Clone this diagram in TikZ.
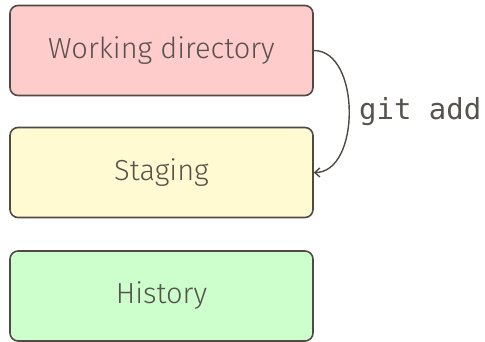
\documentclass[tikz,border=0pt]{standalone}
\usepackage{fontspec}
\setmainfont{Fira Sans}[UprightFont=* Light]
\setmonofont{DejaVu Sans Mono}
\usetikzlibrary{arrows.meta}
\definecolor{edge}{HTML}{504A45}
\definecolor{txt}{HTML}{57524D}
\definecolor{pinkfill}{HTML}{FFCCCC}
\definecolor{yellowfill}{HTML}{FFFAD2}
\definecolor{greenfill}{HTML}{CCFFCC}
\tikzset{
  stage/.style={draw=edge, line width=1.6pt, rounded corners=8pt, minimum width=303pt, minimum height=90pt, text=txt, font=\fontsize{29}{34}\selectfont, inner sep=0pt}
}
\begin{document}
\begin{tikzpicture}[x=1pt,y=-1pt]
\useasboundingbox (0,0) rectangle (485,342);
\node[stage, fill=pinkfill] (wd) at (161.5,50.5) {Working directory};
\node[stage, fill=yellowfill] (st) at (161.5,172.5) {Staging};
\node[stage, fill=greenfill] (hi) at (161.5,296) {History};
\draw[edge, line width=1.4pt, -{Straight Barb[length=5pt,width=9pt]}] (wd.east) .. controls +(47,0) and +(47,0) .. node[right, text=txt, font=\ttfamily\fontsize{29}{32}\selectfont, xshift=6pt] {git add} (st.east);
\end{tikzpicture}
\end{document}
